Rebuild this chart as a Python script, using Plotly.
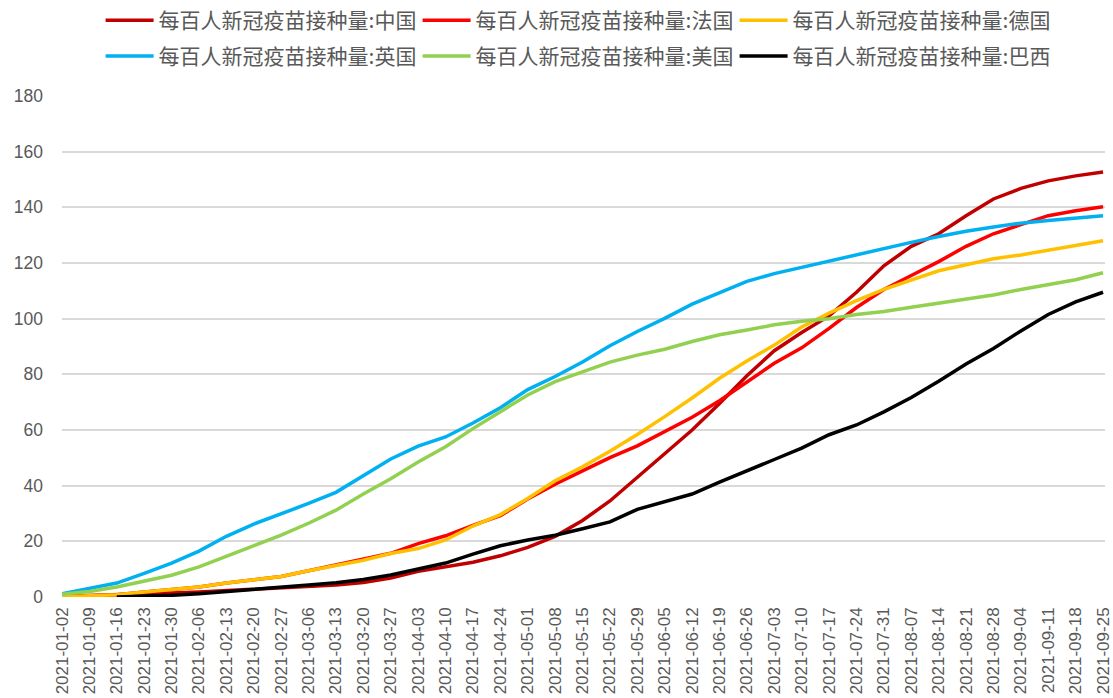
import plotly.graph_objects as go

# Weekly observation dates (also used as x tick labels)
dates = [
    "2021-01-02", "2021-01-09", "2021-01-16", "2021-01-23", "2021-01-30",
    "2021-02-06", "2021-02-13", "2021-02-20", "2021-02-27", "2021-03-06",
    "2021-03-13", "2021-03-20", "2021-03-27", "2021-04-03", "2021-04-10",
    "2021-04-17", "2021-04-24", "2021-05-01", "2021-05-08", "2021-05-15",
    "2021-05-22", "2021-05-29", "2021-06-05", "2021-06-12", "2021-06-19",
    "2021-06-26", "2021-07-03", "2021-07-10", "2021-07-17", "2021-07-24",
    "2021-07-31", "2021-08-07", "2021-08-14", "2021-08-21", "2021-08-28",
    "2021-09-04", "2021-09-11", "2021-09-18", "2021-09-25",
]

# Doses administered per 100 people
china = [0.3, 0.5, 0.7, 1.0, 1.4, 1.8, 2.3, 2.8, 3.2, 3.7,
         4.3, 5.2, 6.8, 9.2, 10.8, 12.5, 14.8, 17.8, 21.8, 27.5,
         34.5, 43.0, 51.5, 60.0, 69.5, 79.5, 88.5, 95.0, 101.0, 109.5,
         119.0, 126.0, 130.5, 137.0, 143.0, 146.8, 149.5, 151.3, 152.7]
france = [0.0, 0.3, 0.8, 1.8, 2.8, 3.6, 5.0, 6.1, 7.4, 9.4,
          11.4, 13.4, 15.7, 19.2, 22.0, 25.7, 29.2, 35.2, 40.5, 45.3,
          50.1, 54.3, 59.4, 64.6, 70.5, 77.4, 84.0, 89.5, 96.5, 104.0,
          110.5, 115.5, 120.5, 126.0, 130.5, 133.8, 137.0, 138.8, 140.2]
germany = [0.1, 0.4, 0.8, 1.8, 2.8, 3.6, 5.0, 6.1, 7.4, 9.4,
           11.2, 13.2, 15.6, 17.4, 20.5, 25.5, 29.6, 35.4, 41.8, 46.8,
           52.4, 58.4, 64.8, 71.5, 78.6, 84.8, 90.5, 97.0, 102.0, 106.5,
           110.5, 114.0, 117.2, 119.4, 121.5, 122.9, 124.5, 126.2, 128.0]
uk = [1.2, 3.0, 5.0, 8.5, 12.2, 16.5, 21.8, 26.2, 29.8, 33.6,
      37.6, 43.7, 49.6, 54.2, 57.5, 62.5, 68.0, 74.5, 79.2, 84.4,
      90.3, 95.4, 100.1, 105.2, 109.4, 113.4, 116.2, 118.5, 120.6, 122.9,
      125.2, 127.4, 129.5, 131.4, 132.9, 134.3, 135.3, 136.2, 137.0]
usa = [1.0, 2.0, 3.6, 5.6, 7.8, 10.8, 14.5, 18.4, 22.2, 26.5,
       31.2, 37.0, 42.5, 48.5, 54.0, 60.5, 66.5, 72.6, 77.4, 80.9,
       84.4, 86.9, 89.0, 91.8, 94.2, 95.9, 97.8, 99.1, 100.0, 101.5,
       102.6, 104.1, 105.5, 107.0, 108.5, 110.5, 112.3, 114.0, 116.5]
brazil = [None, None, 0.0, 0.2, 0.6, 1.2, 1.9, 2.6, 3.4, 4.3,
          5.1, 6.3, 7.9, 10.2, 12.2, 15.4, 18.4, 20.5, 22.2, 24.5,
          27.0, 31.5, 34.2, 37.0, 41.3, 45.5, 49.4, 53.5, 58.3, 61.8,
          66.5, 71.7, 77.5, 83.7, 89.3, 95.6, 101.5, 106.0, 109.5]

prefix = "每百人新冠疫苗接种量:"
series = [
    ("中国", china, "#C00000", "legend"),
    ("法国", france, "#FF0000", "legend"),
    ("德国", germany, "#FFC000", "legend"),
    ("英国", uk, "#00B0F0", "legend2"),
    ("美国", usa, "#92D050", "legend2"),
    ("巴西", brazil, "#000000", "legend2"),
]

fig = go.Figure()
for name, vals, color, leg in series:
    fig.add_trace(go.Scatter(
        x=dates, y=vals, mode="lines", name=prefix + name,
        line=dict(color=color, width=3.5), legend=leg,
    ))

text_color = "#595959"
legend_font = dict(family="Noto Sans CJK SC", size=21, color=text_color)
legend_common = dict(
    orientation="h", xanchor="left", yanchor="middle",
    entrywidth=254, entrywidthmode="pixels", itemwidth=48,
    font=legend_font, bgcolor="rgba(0,0,0,0)", traceorder="normal",
)

fig.update_layout(
    width=1113, height=698,
    margin=dict(l=62, r=0, t=94, b=101),
    paper_bgcolor="white", plot_bgcolor="white",
    showlegend=True,
    legend=dict(x=0.037, y=1.151, **legend_common),
    legend2=dict(x=0.037, y=1.079, **legend_common),
    xaxis=dict(
        type="date",
        range=["2021-01-02", "2021-09-25 12:00"],
        tickvals=dates, ticktext=dates, tickangle=-90,
        showgrid=False, zeroline=False, showline=False, ticks="",
        ticklabeloverflow="allow", ticklabelstandoff=6,
        tickfont=dict(family="Liberation Sans", size=17, color=text_color),
    ),
    yaxis=dict(
        range=[0, 180], dtick=20, tick0=0,
        showgrid=True, gridcolor="#D9D9D9", gridwidth=1.5,
        zeroline=False, showline=False, ticks="",
        ticklabelstandoff=18,
        tickfont=dict(family="Liberation Sans", size=17.5, color=text_color),
    ),
)

fig.write_html("out.html")
